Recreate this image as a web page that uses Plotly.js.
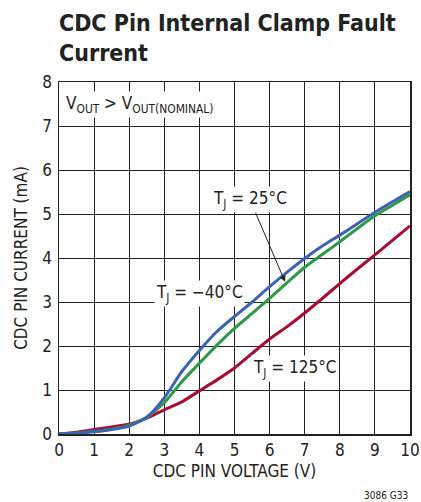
<!DOCTYPE html>
<html><head><meta charset="utf-8">
<script src="https://cdn.plot.ly/plotly-3.0.1.min.js"></script>
<style>body{margin:0;background:#fff}#chart{width:421px;height:502px}</style>
</head><body><div id="chart"></div>
<script>
const voltage = [0,0.5,1,1.5,2,2.5,3,3.5,4,4.5,5,5.5,6,6.5,7,7.5,8,8.5,9,9.5,10];
const current25 = [0,0.02,0.05,0.1,0.18,0.38,0.82,1.42,1.9,2.33,2.67,3.0,3.35,3.68,3.99,4.27,4.52,4.78,5.04,5.28,5.51];
const currentM40 = [0,0.02,0.06,0.11,0.2,0.38,0.71,1.19,1.61,2.02,2.4,2.74,3.08,3.44,3.79,4.08,4.37,4.67,4.96,5.2,5.44];
const current125 = [0,0.04,0.1,0.16,0.22,0.36,0.55,0.73,0.98,1.23,1.5,1.83,2.16,2.44,2.75,3.08,3.42,3.75,4.07,4.4,4.73];
const xTicks = [0,1,2,3,4,5,6,7,8,9,10];
const yTicks = [0,1,2,3,4,5,6,7,8];

const F = '"Liberation Sans Narrow", "DejaVu Sans Condensed", Arial, sans-serif';
const mk = (y, c) => ({x: voltage, y: y, mode: 'lines', line: {color: c, width: 3, shape: 'spline', smoothing: 0.6}, hoverinfo: 'skip', showlegend: false});
const data = [mk(current125, '#a50d32'), mk(currentM40, '#2d9848'), mk(current25, '#3d62b3')];

const axBase = {showgrid: true, gridcolor: '#222', gridwidth: 1, zeroline: false, showline: true, linecolor: '#222', linewidth: 1.5, mirror: true, ticks: '', tickfont: {family: F, size: 17, color: '#222'}, fixedrange: true};
const layout = {
  width: 421, height: 502,
  margin: {l: 59, r: 11, t: 82, b: 68},
  paper_bgcolor: '#fff', plot_bgcolor: '#fff',
  xaxis: Object.assign({}, axBase, {range: [0, 10], tickvals: xTicks, ticktext: xTicks.map(String), title: {text: 'CDC PIN VOLTAGE (V)', font: {family: F, size: 17, color: '#222'}, standoff: 6}}),
  yaxis: Object.assign({}, axBase, {range: [0, 8], tickvals: yTicks, ticktext: yTicks.map(String), ticklabelstandoff: 2, title: {text: 'CDC PIN CURRENT (mA)', font: {family: F, size: 17, color: '#222'}, standoff: 10}}),
  annotations: [
    {xref: 'paper', yref: 'paper', x: -0.007, y: 1.21, xanchor: 'left', yanchor: 'top', align: 'left', showarrow: false, text: '<b>CDC Pin Internal Clamp Fault<br>Current</b>', font: {family: F, size: 23, color: '#222'}},
    {xref: 'paper', yref: 'paper', x: 0.015, y: 0.975, xanchor: 'left', yanchor: 'top', showarrow: false, bgcolor: '#fff', text: 'V<sub>OUT</sub> > V<sub>OUT(NOMINAL)</sub>', font: {family: F, size: 17, color: '#222'}},
    {x: 6.44, y: 3.46, xref: 'x', yref: 'y', ax: -35, ay: -82, axref: 'pixel', ayref: 'pixel', showarrow: true, arrowhead: 2, arrowsize: 1.2, arrowwidth: 1, arrowcolor: '#222', bgcolor: '#fff', text: 'T<sub>J</sub> = 25°C', font: {family: F, size: 17, color: '#222'}},
    {x: 4.0, y: 3.2, xref: 'x', yref: 'y', showarrow: false, bgcolor: '#fff', text: 'T<sub>J</sub> = −40°C', font: {family: F, size: 17, color: '#222'}},
    {x: 6.72, y: 1.5, xref: 'x', yref: 'y', showarrow: false, bgcolor: '#fff', text: 'T<sub>J</sub> = 125°C', font: {family: F, size: 17, color: '#222'}},
    {xref: 'paper', yref: 'paper', x: 1.0, y: -0.175, xanchor: 'right', yanchor: 'middle', showarrow: false, text: '3086 G33', font: {family: F, size: 10, color: '#222'}}
  ]
};
Plotly.newPlot('chart', data, layout, {staticPlot: true});
</script></body></html>
